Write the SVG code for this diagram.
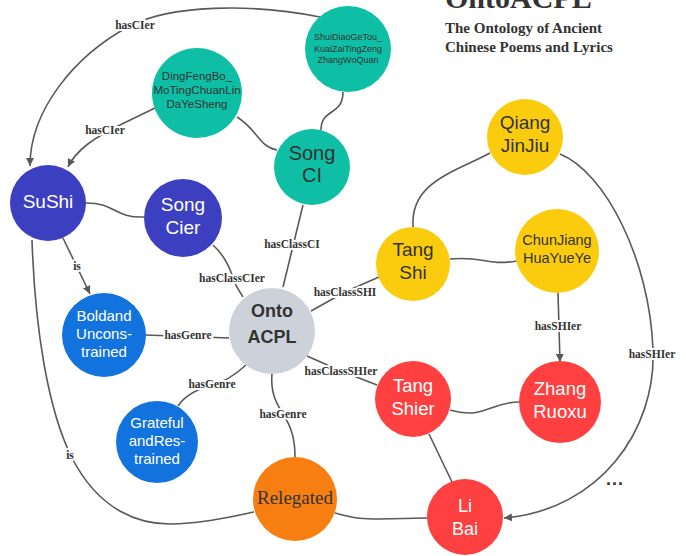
<svg xmlns="http://www.w3.org/2000/svg" width="686" height="556" viewBox="0 0 686 556">
<style>
.e{fill:none;stroke:#595959;stroke-width:1.6}
.lb{font-family:"Liberation Serif",serif;font-weight:bold;font-size:11.5px;fill:#333;text-anchor:middle;paint-order:stroke;stroke:#fff;stroke-width:4px;stroke-linejoin:round}
.t{font-family:"Liberation Sans",Arial,sans-serif;text-anchor:middle}
.w{fill:#fff}
.d{fill:#333}
.teal{fill:#0fbfa5}
.ind{fill:#3d3fc1}
.blu{fill:#1273de}
.yel{fill:#fbcc0d}
.red{fill:#fe4040}
.org{fill:#f77f11}
.gry{fill:#cdd2da}
</style>
<defs>
<marker id="ar" viewBox="0 0 10 10" refX="10" refY="5" markerWidth="8" markerHeight="8" markerUnits="userSpaceOnUse" orient="auto">
<path d="M0,0 L10,5 L0,10 z" fill="#595959"/>
</marker>
</defs>
<rect width="686" height="556" fill="#fff"/>

<g id="title">
<text x="445" y="8" font-family="'Liberation Serif',serif" font-weight="bold" font-size="30" fill="#333">OntoACPL</text>
<text x="445" y="33" font-family="'Liberation Serif',serif" font-weight="bold" font-size="15" fill="#333">The Ontology of Ancient</text>
<text x="445" y="52" font-family="'Liberation Serif',serif" font-weight="bold" font-size="15" fill="#333">Chinese Poems and Lyrics</text>
</g>

<g id="connectors">
<path class="e" marker-end="url(#ar)" d="M320,17 C250,3 170,5 130,26 C75,55 30,110 30,166"/>
<path class="e" marker-end="url(#ar)" d="M155,108 L122,124 C95,137 76,150 68,167"/>
<path class="e" d="M237,117 C258,130 258,146 277,150"/>
<path class="e" d="M343,92 C343,116 321,108 321,130"/>
<path class="e" d="M303,205 L283,287"/>
<path class="e" d="M86,203 C116,203 114,218 144,217"/>
<path class="e" d="M213,245 C225,256 230,268 233,278 C236,287 240,292 243,297"/>
<path class="e" marker-end="url(#ar)" d="M63,238 L90,294"/>
<path class="e" d="M145,335 L229,338"/>
<path class="e" d="M32,240 C35,330 48,410 72,458 C100,512 140,524 170,524 C200,524 230,517 254,512"/>
<path class="e" d="M246,365 C235,375 225,382 212,385 C198,389 185,395 178,406"/>
<path class="e" d="M272,373 C270,395 278,405 283,414 C292,428 295,440 295,457"/>
<path class="e" d="M311,311 L345,292 L379,277"/>
<path class="e" d="M307,356 L341,371 L377,385"/>
<path class="e" d="M413,227 C410,182 455,172 490,153"/>
<path class="e" d="M450,259 C485,256 485,266 517,261"/>
<path class="e" marker-end="url(#ar)" d="M558,293 L560,362"/>
<path class="e" marker-end="url(#ar)" d="M560,154 C605,172 650,260 653,350 C656,430 600,510 504,518"/>
<path class="e" d="M450,410 C485,420 490,402 519,402"/>
<path class="e" d="M429,434 L452,482"/>
<path class="e" d="M335,513 C355,519 365,519 380,519 L427,518"/>
</g>

<g id="edge-labels">
<text class="lb" x="135" y="29">hasCIer</text>
<text class="lb" x="105" y="134">hasCIer</text>
<text class="lb" x="292" y="248">hasClassCI</text>
<text class="lb" x="232" y="282">hasClassCIer</text>
<text class="lb" x="77" y="270">is</text>
<text class="lb" x="188" y="339">hasGenre</text>
<text class="lb" x="70" y="459">is</text>
<text class="lb" x="212" y="388">hasGenre</text>
<text class="lb" x="283" y="418">hasGenre</text>
<text class="lb" x="345" y="296">hasClassSHI</text>
<text class="lb" x="341" y="375">hasClassSHIer</text>
<text class="lb" x="558" y="330">hasSHIer</text>
<text class="lb" x="652" y="358">hasSHIer</text>
</g>

<g id="ShuiDiaoGeTou">
<circle class="teal" cx="348" cy="49" r="43"/>
<text class="t d" font-size="9" x="348" y="40">ShuiDiaoGeTou_</text>
<text class="t d" font-size="9" x="348" y="51.5">KuaiZaiTingZeng</text>
<text class="t d" font-size="9" x="348" y="63">ZhangWoQuan</text>
</g>
<g id="DingFengBo">
<circle class="teal" cx="197" cy="93" r="45"/>
<text class="t d" font-size="11.5" x="197" y="80">DingFengBo_</text>
<text class="t d" font-size="11.5" x="197" y="94">MoTingChuanLin</text>
<text class="t d" font-size="11.5" x="197" y="108">DaYeSheng</text>
</g>
<g id="SongCI">
<circle class="teal" cx="312" cy="167" r="38"/>
<text class="t d" font-size="20" x="312" y="160">Song</text>
<text class="t d" font-size="20" x="312" y="182">CI</text>
</g>
<g id="SuShi">
<circle class="ind" cx="48" cy="203" r="38"/>
<text class="t w" font-size="19" x="48" y="208">SuShi</text>
</g>
<g id="SongCier">
<circle class="ind" cx="183" cy="218" r="39"/>
<text class="t w" font-size="19" x="183" y="211">Song</text>
<text class="t w" font-size="19" x="183" y="234">Cier</text>
</g>
<g id="BoldandUnconstrained">
<circle class="blu" cx="104" cy="335" r="42"/>
<text class="t w" font-size="15" x="104" y="321">Boldand</text>
<text class="t w" font-size="15" x="104" y="339">Uncons-</text>
<text class="t w" font-size="15" x="104" y="357">trained</text>
</g>
<g id="OntoACPL">
<circle class="gry" cx="272" cy="331" r="43"/>
<text class="t d" font-size="18" font-weight="bold" x="272" y="317">Onto</text>
<text class="t d" font-size="18" font-weight="bold" x="272" y="343">ACPL</text>
</g>
<g id="GratefulAndRestrained">
<circle class="blu" cx="157" cy="442" r="41"/>
<text class="t w" font-size="15" x="157" y="428">Grateful</text>
<text class="t w" font-size="15" x="157" y="446">andRes-</text>
<text class="t w" font-size="15" x="157" y="464">trained</text>
</g>
<g id="Relegated">
<circle class="org" cx="295" cy="499" r="42"/>
<text x="295" y="504" font-family="'Liberation Serif',serif" font-size="19" fill="#333" text-anchor="middle">Relegated</text>
</g>
<g id="QiangJinJiu">
<circle class="yel" cx="525" cy="137" r="38"/>
<text class="t d" font-size="19" x="525" y="129">Qiang</text>
<text class="t d" font-size="19" x="525" y="152">JinJiu</text>
</g>
<g id="TangShi">
<circle class="yel" cx="413" cy="264" r="37"/>
<text class="t d" font-size="19" x="413" y="256">Tang</text>
<text class="t d" font-size="19" x="413" y="279">Shi</text>
</g>
<g id="ChunJiangHuaYueYe">
<circle class="yel" cx="557" cy="251" r="42"/>
<text class="t d" font-size="14.5" x="557" y="245">ChunJiang</text>
<text class="t d" font-size="14.5" x="557" y="263">HuaYueYe</text>
</g>
<g id="TangShier">
<circle class="red" cx="413" cy="399" r="38"/>
<text class="t w" font-size="18.5" x="413" y="392">Tang</text>
<text class="t w" font-size="18.5" x="413" y="415">Shier</text>
</g>
<g id="ZhangRuoxu">
<circle class="red" cx="560" cy="402" r="41"/>
<text class="t w" font-size="18.5" x="560" y="395">Zhang</text>
<text class="t w" font-size="18.5" x="560" y="418">Ruoxu</text>
</g>
<g id="LiBai">
<circle class="red" cx="465" cy="517" r="38"/>
<text class="t w" font-size="18" x="465" y="512">Li</text>
<text class="t w" font-size="18" x="465" y="535">Bai</text>
</g>
<g id="ellipsis">
<text x="615" y="485" font-family="'Liberation Sans',sans-serif" font-size="18" font-weight="bold" fill="#333" text-anchor="middle" letter-spacing="1">...</text>
</g>
</svg>
